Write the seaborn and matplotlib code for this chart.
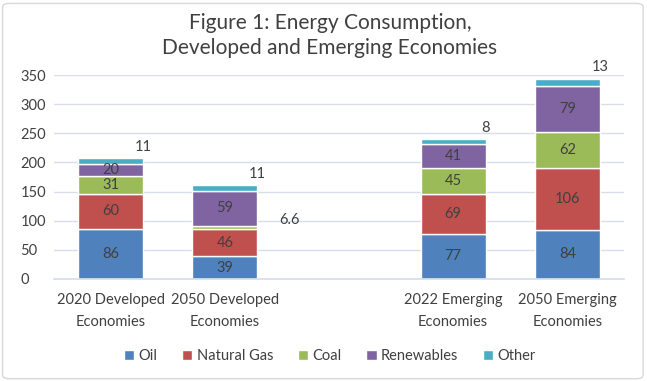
import matplotlib
matplotlib.use('Agg')
import matplotlib.pyplot as plt
import seaborn as sns
import numpy as np
import pandas as pd
from matplotlib.patches import FancyBboxPatch, Patch

sns.set_theme(style='white')
plt.rcParams['font.family'] = ['Lato', 'DejaVu Sans']

# data
categories = ['2020 Developed\nEconomies', '2050 Developed\nEconomies', '',
              '2022 Emerging\nEconomies', '2050 Emerging\nEconomies']
series = ['Oil', 'Natural Gas', 'Coal', 'Renewables', 'Other']
oil = [86, 39, 0, 77, 84]
natural_gas = [60, 46, 0, 69, 106]
coal = [31, 6.6, 0, 45, 62]
renewables = [20, 59, 0, 41, 79]
other = [11, 11, 0, 8, 13]
colors = ['#4F81BD', '#C0504D', '#9BBB59', '#8064A2', '#4BACC6']

values = [oil, natural_gas, coal, renewables, other]
df = pd.DataFrame({s: v for s, v in zip(series, values)}, index=categories)

fig = plt.figure(figsize=(6.47, 3.81), dpi=100)
ax = fig.add_axes([0.083, 0.268, 0.882, 0.535])

text_col = '#404040'
bottom = np.zeros(len(categories))
width = 0.57
for s, c in zip(series, colors):
    sns.barplot(x=categories, y=df[s].values, bottom=bottom, color=c,
                width=width, saturation=1, ax=ax, order=categories)
    bottom = bottom + df[s].values

# labels inside bars
bottom = np.zeros(len(categories))
for s in series:
    vals = df[s].values
    for i, v in enumerate(vals):
        if v == 0:
            continue
        lab = f'{v:g}'
        if s == 'Other':
            ax.text(i + width / 2, bottom[i] + v + 7, lab, ha='center', va='bottom',
                    fontsize=10.5, color=text_col)
        elif v < 10:
            ax.text(i + 0.57, bottom[i] + v / 2 + 12, lab, ha='center', va='center',
                    fontsize=10.5, color=text_col)
        else:
            ax.text(i, bottom[i] + v / 2, lab, ha='center', va='center',
                    fontsize=10.5, color=text_col)
    bottom = bottom + vals

ax.set_ylim(0, 350)
ax.set_xlim(-0.5, len(categories) - 0.5)
ax.set_yticks(range(0, 351, 50))
ax.yaxis.grid(True, color='#D5DEEA', linewidth=1)
ax.set_axisbelow(True)
for sp in ['top', 'right', 'left']:
    ax.spines[sp].set_visible(False)
ax.spines['bottom'].set_color('#D5DEEA')
ax.tick_params(axis='both', length=0, labelsize=10.5, colors=text_col)
ax.tick_params(axis='y', pad=24)
ax.tick_params(axis='x', pad=10)
for t in ax.get_yticklabels():
    t.set_horizontalalignment('left')
for t in ax.get_xticklabels():
    t.set_linespacing(1.75)
ax.set_xlabel('')
ax.set_ylabel('')

fig.text(0.51, 0.965, 'Figure 1: Energy Consumption,\nDeveloped and Emerging Economies',
         ha='center', va='top', fontsize=15, color='#404040', linespacing=1.3)

handles = [Patch(facecolor=c, label=s) for s, c in zip(series, colors)]
fig.legend(handles=handles, loc='center', bbox_to_anchor=(0.51, 0.066), ncol=5,
           frameon=False, fontsize=10.5, handlelength=0.7, handleheight=0.7,
           handletextpad=0.3, columnspacing=1.7, labelcolor=text_col)

border = FancyBboxPatch((0.004, 0.006), 0.99, 0.985, boxstyle='round,pad=0,rounding_size=0.01',
                        transform=fig.transFigure, fill=False, edgecolor='#D9D9D9', linewidth=1)
fig.patches.append(border)

fig.savefig('out.png', dpi=100)
